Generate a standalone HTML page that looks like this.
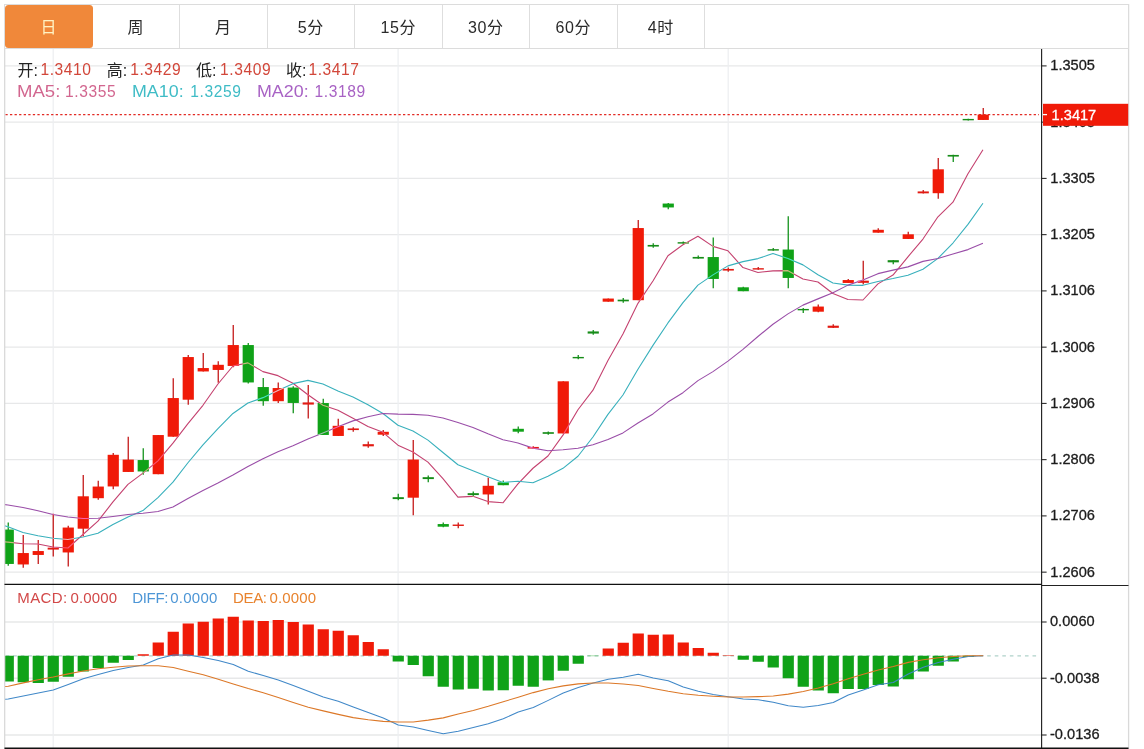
<!DOCTYPE html>
<html lang="zh"><head><meta charset="utf-8"><title>K线图</title>
<style>
html,body{margin:0;padding:0;background:#fff;}
body{width:1144px;height:749px;position:relative;overflow:hidden;font-family:"Liberation Sans","Noto Sans CJK SC",sans-serif;}
#tabs{position:absolute;left:4px;top:4px;width:1123.2px;height:42.6px;border:1px solid #dcdcdc;box-sizing:content-box;background:#fff;}
.tab{position:absolute;top:0;width:87.5px;height:42.6px;line-height:45px;text-align:center;font-size:16px;letter-spacing:0.5px;color:#2a2a2a;border-right:1px solid #dedede;box-sizing:border-box;}
.tab.on{background:#f0883a;color:#fff3c4;border-radius:3.5px;border-right:none;top:0;height:42.8px;}
svg{position:absolute;left:0;top:0;}
.ax{font-family:"Liberation Sans",sans-serif;font-size:14.6px;fill:#1c1c1c;stroke:#1c1c1c;stroke-width:0.3px;}
.lg{position:absolute;white-space:nowrap;font-size:16px;line-height:20px;letter-spacing:0.25px;}
.lg i{font-style:normal;}
.lg.c{color:#222;letter-spacing:0;}
.lg.v{color:#d2473a;letter-spacing:0.55px;font-size:15.6px;margin-left:-0.4px;}
.lg.k{top:82.3px;letter-spacing:0;font-size:15.6px;transform-origin:0 0;transform:scaleX(1.145);}
.lg.w{top:82.3px;letter-spacing:0.62px;font-size:15.6px;}
.lg.m{top:588.4px;font-size:15px;letter-spacing:0;}
</style></head><body>
<svg width="1144" height="749" viewBox="0 0 1144 749">
<line x1="5" x2="1041" y1="65.9" y2="65.9" stroke="#e7e8e9" stroke-width="1.4"/>
<line x1="5" x2="1041" y1="122.15" y2="122.15" stroke="#e7e8e9" stroke-width="1.4"/>
<line x1="5" x2="1041" y1="178.4" y2="178.4" stroke="#e7e8e9" stroke-width="1.4"/>
<line x1="5" x2="1041" y1="234.65" y2="234.65" stroke="#e7e8e9" stroke-width="1.4"/>
<line x1="5" x2="1041" y1="290.9" y2="290.9" stroke="#e7e8e9" stroke-width="1.4"/>
<line x1="5" x2="1041" y1="347.15" y2="347.15" stroke="#e7e8e9" stroke-width="1.4"/>
<line x1="5" x2="1041" y1="403.4" y2="403.4" stroke="#e7e8e9" stroke-width="1.4"/>
<line x1="5" x2="1041" y1="459.65" y2="459.65" stroke="#e7e8e9" stroke-width="1.4"/>
<line x1="5" x2="1041" y1="515.9" y2="515.9" stroke="#e7e8e9" stroke-width="1.4"/>
<line x1="5" x2="1041" y1="572.15" y2="572.15" stroke="#e7e8e9" stroke-width="1.4"/>
<line x1="5" x2="1041" y1="622" y2="622" stroke="#e7e8e9" stroke-width="1.4"/>
<line x1="5" x2="1041" y1="678.2" y2="678.2" stroke="#e7e8e9" stroke-width="1.4"/>
<line x1="5" x2="1041" y1="735" y2="735" stroke="#e7e8e9" stroke-width="1.4"/>
<line x1="53.2" x2="53.2" y1="48.5" y2="748" stroke="#edeff1" stroke-width="1.25"/>
<line x1="398.1" x2="398.1" y1="48.5" y2="748" stroke="#edeff1" stroke-width="1.25"/>
<line x1="728.2" x2="728.2" y1="48.5" y2="748" stroke="#edeff1" stroke-width="1.25"/>
<defs><clipPath id="cp"><rect x="5" y="49" width="1036" height="700"/></clipPath></defs>
<g clip-path="url(#cp)">
<line x1="5.7" x2="1037" y1="655.95" y2="655.95" stroke="#b0d2ca" stroke-width="1.25" stroke-dasharray="3.6 3.95"/>
<g style="isolation:isolate">
<line x1="8.25" x2="8.25" y1="522.60" y2="565.70" stroke="#14921c" stroke-width="1.3"/>
<rect x="2.6500000000000004" y="529.55" width="11.2" height="34.40" fill="#10a218"/>
<line x1="23.25" x2="23.25" y1="535.10" y2="567.70" stroke="#c41a1a" stroke-width="1.3"/>
<rect x="17.65" y="553.05" width="11.2" height="11.40" fill="#f01a08"/>
<line x1="38.25" x2="38.25" y1="540.10" y2="563.95" stroke="#c41a1a" stroke-width="1.3"/>
<rect x="32.65" y="551.05" width="11.2" height="3.90" fill="#f01a08"/>
<line x1="53.25" x2="53.25" y1="513.85" y2="556.45" stroke="#c41a1a" stroke-width="1.3"/>
<rect x="47.65" y="547.67" width="11.2" height="1.90" fill="#e21a12"/>
<line x1="68.25" x2="68.25" y1="525.85" y2="566.45" stroke="#c41a1a" stroke-width="1.3"/>
<rect x="62.65" y="527.55" width="11.2" height="24.90" fill="#f01a08"/>
<line x1="83.25" x2="83.25" y1="475.10" y2="536.45" stroke="#c41a1a" stroke-width="1.3"/>
<rect x="77.65" y="496.30" width="11.2" height="32.40" fill="#f01a08"/>
<line x1="98.25" x2="98.25" y1="480.85" y2="499.70" stroke="#c41a1a" stroke-width="1.3"/>
<rect x="92.65" y="486.55" width="11.2" height="11.65" fill="#f01a08"/>
<line x1="113.25" x2="113.25" y1="453.10" y2="489.20" stroke="#c41a1a" stroke-width="1.3"/>
<rect x="107.65" y="454.80" width="11.2" height="31.65" fill="#f01a08"/>
<line x1="128.25" x2="128.25" y1="436.85" y2="471.95" stroke="#c41a1a" stroke-width="1.3"/>
<rect x="122.65" y="459.55" width="11.2" height="12.40" fill="#f01a08"/>
<line x1="143.25" x2="143.25" y1="448.35" y2="474.70" stroke="#14921c" stroke-width="1.3"/>
<rect x="137.65" y="460.05" width="11.2" height="11.40" fill="#10a218"/>
<line x1="158.25" x2="158.25" y1="435.10" y2="474.20" stroke="#c41a1a" stroke-width="1.3"/>
<rect x="152.65" y="435.05" width="11.2" height="39.15" fill="#f01a08"/>
<line x1="173.25" x2="173.25" y1="378.35" y2="436.70" stroke="#c41a1a" stroke-width="1.3"/>
<rect x="167.65" y="398.05" width="11.2" height="38.65" fill="#f01a08"/>
<line x1="188.25" x2="188.25" y1="355.10" y2="404.70" stroke="#c41a1a" stroke-width="1.3"/>
<rect x="182.65" y="357.05" width="11.2" height="42.65" fill="#f01a08"/>
<line x1="203.25" x2="203.25" y1="353.10" y2="371.45" stroke="#c41a1a" stroke-width="1.3"/>
<rect x="197.65" y="368.05" width="11.2" height="3.40" fill="#f01a08"/>
<line x1="218.25" x2="218.25" y1="361.35" y2="382.70" stroke="#c41a1a" stroke-width="1.3"/>
<rect x="212.65" y="364.80" width="11.2" height="5.15" fill="#f01a08"/>
<line x1="233.25" x2="233.25" y1="325.10" y2="367.20" stroke="#c41a1a" stroke-width="1.3"/>
<rect x="227.65" y="345.05" width="11.2" height="20.90" fill="#f01a08"/>
<line x1="248.25" x2="248.25" y1="343.10" y2="383.45" stroke="#14921c" stroke-width="1.3"/>
<rect x="242.65" y="345.05" width="11.2" height="37.40" fill="#10a218"/>
<line x1="263.25" x2="263.25" y1="378.10" y2="405.70" stroke="#14921c" stroke-width="1.3"/>
<rect x="257.65" y="387.05" width="11.2" height="14.15" fill="#10a218"/>
<line x1="278.25" x2="278.25" y1="382.60" y2="402.95" stroke="#c41a1a" stroke-width="1.3"/>
<rect x="272.65" y="388.05" width="11.2" height="13.15" fill="#f01a08"/>
<line x1="293.25" x2="293.25" y1="386.35" y2="413.20" stroke="#14921c" stroke-width="1.3"/>
<rect x="287.65" y="387.55" width="11.2" height="15.40" fill="#10a218"/>
<line x1="308.25" x2="308.25" y1="385.10" y2="418.45" stroke="#c41a1a" stroke-width="1.3"/>
<rect x="302.65" y="402.43" width="11.2" height="2.15" fill="#e21a12"/>
<line x1="323.25" x2="323.25" y1="398.85" y2="434.95" stroke="#14921c" stroke-width="1.3"/>
<rect x="317.65" y="403.05" width="11.2" height="31.90" fill="#10a218"/>
<line x1="338.25" x2="338.25" y1="418.85" y2="435.95" stroke="#c41a1a" stroke-width="1.3"/>
<rect x="332.65" y="425.80" width="11.2" height="10.15" fill="#f01a08"/>
<line x1="353.25" x2="353.25" y1="427.35" y2="431.70" stroke="#c41a1a" stroke-width="1.3"/>
<rect x="347.65" y="428.43" width="11.2" height="1.65" fill="#e21a12"/>
<line x1="368.25" x2="368.25" y1="441.60" y2="447.70" stroke="#c41a1a" stroke-width="1.3"/>
<rect x="362.65" y="444.18" width="11.2" height="2.15" fill="#e21a12"/>
<line x1="383.25" x2="383.25" y1="430.10" y2="435.95" stroke="#c41a1a" stroke-width="1.3"/>
<rect x="377.65" y="431.80" width="11.2" height="2.90" fill="#f01a08"/>
<line x1="398.25" x2="398.25" y1="493.85" y2="500.20" stroke="#14921c" stroke-width="1.3"/>
<rect x="392.65" y="497.18" width="11.2" height="1.90" fill="#168c18"/>
<line x1="413.25" x2="413.25" y1="440.10" y2="515.20" stroke="#c41a1a" stroke-width="1.3"/>
<rect x="407.65" y="459.55" width="11.2" height="38.15" fill="#f01a08"/>
<line x1="428.25" x2="428.25" y1="475.60" y2="482.20" stroke="#14921c" stroke-width="1.3"/>
<rect x="422.65" y="477.18" width="11.2" height="1.90" fill="#168c18"/>
<line x1="443.25" x2="443.25" y1="522.60" y2="527.20" stroke="#14921c" stroke-width="1.3"/>
<rect x="437.65" y="524.05" width="11.2" height="2.65" fill="#10a218"/>
<line x1="458.25" x2="458.25" y1="522.60" y2="528.20" stroke="#c41a1a" stroke-width="1.3"/>
<rect x="452.65" y="524.55" width="11.2" height="1.40" fill="#e21a12"/>
<line x1="473.25" x2="473.25" y1="491.60" y2="496.70" stroke="#14921c" stroke-width="1.3"/>
<rect x="467.65" y="493.18" width="11.2" height="1.90" fill="#168c18"/>
<line x1="488.25" x2="488.25" y1="477.60" y2="504.45" stroke="#c41a1a" stroke-width="1.3"/>
<rect x="482.65" y="485.80" width="11.2" height="8.65" fill="#f01a08"/>
<line x1="503.25" x2="503.25" y1="480.60" y2="485.20" stroke="#14921c" stroke-width="1.3"/>
<rect x="497.65" y="482.30" width="11.2" height="2.90" fill="#10a218"/>
<line x1="518.25" x2="518.25" y1="426.60" y2="433.20" stroke="#14921c" stroke-width="1.3"/>
<rect x="512.65" y="428.80" width="11.2" height="2.90" fill="#10a218"/>
<line x1="533.25" x2="533.25" y1="446.35" y2="448.70" stroke="#c41a1a" stroke-width="1.3"/>
<rect x="527.65" y="446.93" width="11.2" height="1.65" fill="#e21a12"/>
<line x1="548.25" x2="548.25" y1="431.60" y2="434.70" stroke="#14921c" stroke-width="1.3"/>
<rect x="542.65" y="432.18" width="11.2" height="1.65" fill="#168c18"/>
<line x1="563.25" x2="563.25" y1="381.35" y2="433.45" stroke="#c41a1a" stroke-width="1.3"/>
<rect x="557.65" y="381.30" width="11.2" height="52.15" fill="#f01a08"/>
<line x1="578.25" x2="578.25" y1="355.10" y2="359.20" stroke="#14921c" stroke-width="1.3"/>
<rect x="572.65" y="356.93" width="11.2" height="1.40" fill="#168c18"/>
<line x1="593.25" x2="593.25" y1="330.10" y2="334.70" stroke="#14921c" stroke-width="1.3"/>
<rect x="587.65" y="331.43" width="11.2" height="2.15" fill="#168c18"/>
<line x1="608.25" x2="608.25" y1="298.60" y2="301.70" stroke="#c41a1a" stroke-width="1.3"/>
<rect x="602.65" y="298.55" width="11.2" height="3.15" fill="#f01a08"/>
<line x1="623.25" x2="623.25" y1="298.10" y2="302.70" stroke="#14921c" stroke-width="1.3"/>
<rect x="617.65" y="299.68" width="11.2" height="1.65" fill="#168c18"/>
<line x1="638.25" x2="638.25" y1="220.10" y2="300.20" stroke="#c41a1a" stroke-width="1.3"/>
<rect x="632.65" y="228.05" width="11.2" height="72.15" fill="#f01a08"/>
<line x1="653.25" x2="653.25" y1="243.35" y2="247.70" stroke="#14921c" stroke-width="1.3"/>
<rect x="647.65" y="244.93" width="11.2" height="1.65" fill="#168c18"/>
<line x1="668.25" x2="668.25" y1="203.10" y2="209.20" stroke="#14921c" stroke-width="1.3"/>
<rect x="662.65" y="203.55" width="11.2" height="3.90" fill="#10a218"/>
<line x1="683.25" x2="683.25" y1="241.60" y2="243.70" stroke="#14921c" stroke-width="1.3"/>
<rect x="677.65" y="242.18" width="11.2" height="1.40" fill="#168c18"/>
<line x1="698.25" x2="698.25" y1="255.60" y2="258.70" stroke="#14921c" stroke-width="1.3"/>
<rect x="692.65" y="256.93" width="11.2" height="1.65" fill="#168c18"/>
<line x1="713.25" x2="713.25" y1="237.60" y2="288.20" stroke="#14921c" stroke-width="1.3"/>
<rect x="707.65" y="257.05" width="11.2" height="21.90" fill="#10a218"/>
<line x1="728.25" x2="728.25" y1="267.60" y2="271.70" stroke="#c41a1a" stroke-width="1.3"/>
<rect x="722.65" y="268.93" width="11.2" height="1.65" fill="#e21a12"/>
<line x1="743.25" x2="743.25" y1="286.85" y2="291.20" stroke="#14921c" stroke-width="1.3"/>
<rect x="737.65" y="287.30" width="11.2" height="3.90" fill="#10a218"/>
<line x1="758.25" x2="758.25" y1="267.10" y2="269.70" stroke="#c41a1a" stroke-width="1.3"/>
<rect x="752.65" y="268.18" width="11.2" height="1.40" fill="#e21a12"/>
<line x1="773.25" x2="773.25" y1="248.10" y2="250.70" stroke="#14921c" stroke-width="1.3"/>
<rect x="767.65" y="249.18" width="11.2" height="1.40" fill="#168c18"/>
<line x1="788.25" x2="788.25" y1="216.35" y2="288.20" stroke="#14921c" stroke-width="1.3"/>
<rect x="782.65" y="249.55" width="11.2" height="28.40" fill="#10a218"/>
<line x1="803.25" x2="803.25" y1="308.10" y2="312.95" stroke="#14921c" stroke-width="1.3"/>
<rect x="797.65" y="308.93" width="11.2" height="1.40" fill="#168c18"/>
<line x1="818.25" x2="818.25" y1="304.60" y2="312.20" stroke="#c41a1a" stroke-width="1.3"/>
<rect x="812.65" y="306.55" width="11.2" height="5.15" fill="#f01a08"/>
<line x1="833.25" x2="833.25" y1="324.35" y2="327.95" stroke="#c41a1a" stroke-width="1.3"/>
<rect x="827.65" y="325.68" width="11.2" height="2.15" fill="#e21a12"/>
<line x1="848.25" x2="848.25" y1="279.10" y2="282.95" stroke="#c41a1a" stroke-width="1.3"/>
<rect x="842.65" y="280.05" width="11.2" height="2.90" fill="#f01a08"/>
<line x1="863.25" x2="863.25" y1="260.85" y2="284.45" stroke="#c41a1a" stroke-width="1.3"/>
<rect x="857.65" y="280.68" width="11.2" height="2.15" fill="#e21a12"/>
<line x1="878.25" x2="878.25" y1="228.35" y2="232.70" stroke="#c41a1a" stroke-width="1.3"/>
<rect x="872.65" y="229.80" width="11.2" height="2.90" fill="#f01a08"/>
<line x1="893.25" x2="893.25" y1="260.10" y2="264.20" stroke="#14921c" stroke-width="1.3"/>
<rect x="887.65" y="260.18" width="11.2" height="2.15" fill="#168c18"/>
<line x1="908.25" x2="908.25" y1="231.85" y2="238.95" stroke="#c41a1a" stroke-width="1.3"/>
<rect x="902.65" y="234.30" width="11.2" height="4.65" fill="#f01a08"/>
<line x1="923.25" x2="923.25" y1="190.10" y2="193.45" stroke="#c41a1a" stroke-width="1.3"/>
<rect x="917.65" y="191.43" width="11.2" height="1.90" fill="#e21a12"/>
<line x1="938.25" x2="938.25" y1="158.10" y2="198.70" stroke="#c41a1a" stroke-width="1.3"/>
<rect x="932.65" y="169.30" width="11.2" height="23.90" fill="#f01a08"/>
<line x1="953.25" x2="953.25" y1="154.85" y2="161.95" stroke="#14921c" stroke-width="1.3"/>
<rect x="947.65" y="154.93" width="11.2" height="1.65" fill="#168c18"/>
<line x1="968.25" x2="968.25" y1="118.85" y2="120.45" stroke="#14921c" stroke-width="1.3"/>
<rect x="962.65" y="118.92" width="11.2" height="1.40" fill="#168c18"/>
<line x1="983.25" x2="983.25" y1="108.10" y2="119.95" stroke="#c41a1a" stroke-width="1.3"/>
<rect x="977.65" y="114.55" width="11.2" height="5.40" fill="#f01a08"/>
<g style="mix-blend-mode:screen" transform="translate(-0.3,-0.55)">
<polyline points="-6.75,541.50 8.25,542.70 23.25,544.25 38.25,544.50 53.25,547.50 68.25,548.55 83.25,535.05 98.25,521.75 113.25,502.50 128.25,484.90 143.25,473.65 158.25,461.40 173.25,443.70 188.25,424.15 203.25,405.85 218.25,384.55 233.25,366.55 248.25,363.40 263.25,372.20 278.25,376.20 293.25,383.80 308.25,395.25 323.25,405.75 338.25,410.70 353.25,418.75 368.25,427.00 383.25,432.90 398.25,445.75 413.25,452.50 428.25,462.65 443.25,479.15 458.25,497.70 473.25,496.90 488.25,502.15 503.25,503.35 518.25,484.35 533.25,468.80 548.25,456.55 563.25,435.65 578.25,410.30 593.25,390.70 608.25,361.05 623.25,334.55 638.25,303.90 653.25,281.55 668.25,256.30 683.25,245.30 698.25,236.75 713.25,246.90 728.25,251.35 743.25,268.10 758.25,273.00 773.25,271.40 788.25,271.20 803.25,279.50 818.25,282.60 833.25,294.10 848.25,300.00 863.25,300.55 878.25,284.45 893.25,275.60 908.25,257.35 923.25,239.60 938.25,217.35 953.25,202.70 968.25,174.30 983.25,150.35" fill="none" stroke="#c4416f" stroke-width="1.1" stroke-linejoin="round"/>
<polyline points="-6.75,523.00 8.25,527.30 23.25,533.00 38.25,536.25 53.25,538.75 68.25,540.00 83.25,537.50 98.25,533.75 113.25,525.00 128.25,517.50 143.25,511.10 158.25,498.23 173.25,482.73 188.25,463.32 203.25,445.38 218.25,429.10 233.25,413.98 248.25,403.55 263.25,398.18 278.25,391.02 293.25,384.18 308.25,380.90 323.25,384.57 338.25,391.45 353.25,397.48 368.25,405.40 383.25,414.07 398.25,425.75 413.25,431.60 428.25,440.70 443.25,453.07 458.25,465.30 473.25,471.32 488.25,477.32 503.25,483.00 518.25,481.75 533.25,483.25 548.25,476.73 563.25,468.90 578.25,456.82 593.25,437.52 608.25,414.93 623.25,395.55 638.25,369.77 653.25,345.93 668.25,323.50 683.25,303.18 698.25,285.65 713.25,275.40 728.25,266.45 743.25,262.20 758.25,259.15 773.25,254.07 788.25,259.05 803.25,265.43 818.25,275.35 833.25,283.55 848.25,285.70 863.25,285.88 878.25,281.98 893.25,279.10 908.25,275.73 923.25,269.80 938.25,258.95 953.25,243.57 968.25,224.95 983.25,203.85" fill="none" stroke="#38b0bc" stroke-width="1.1" stroke-linejoin="round"/>
<polyline points="-6.75,504.00 8.25,505.50 23.25,508.00 38.25,511.25 53.25,515.00 68.25,517.50 83.25,519.00 98.25,518.75 113.25,517.00 128.25,515.00 143.25,513.75 158.25,512.00 173.25,507.50 188.25,499.00 203.25,491.00 218.25,483.50 233.25,475.50 248.25,467.00 263.25,459.20 278.25,452.20 293.25,446.20 308.25,439.56 323.25,433.65 338.25,427.39 353.25,421.43 368.25,417.25 383.25,414.02 398.25,414.65 413.25,414.89 428.25,415.86 443.25,418.62 458.25,423.10 473.25,427.95 488.25,434.39 503.25,440.24 518.25,443.57 533.25,448.66 548.25,451.24 563.25,450.25 578.25,448.76 593.25,445.30 608.25,440.11 623.25,433.44 638.25,423.55 653.25,414.46 668.25,402.62 683.25,393.21 698.25,381.19 713.25,372.15 728.25,361.64 743.25,349.86 758.25,337.04 773.25,324.81 788.25,314.41 803.25,305.68 818.25,299.43 833.25,293.36 848.25,285.68 863.25,280.64 878.25,274.21 893.25,270.65 908.25,267.44 923.25,261.94 938.25,259.00 953.25,254.50 968.25,250.15 983.25,243.70" fill="none" stroke="#9a4ea8" stroke-width="1.1" stroke-linejoin="round"/>
</g>
</g>
<rect x="2.6500000000000004" y="655.75" width="11.2" height="25.75" fill="#10a218"/>
<rect x="17.65" y="655.75" width="11.2" height="26.50" fill="#10a218"/>
<rect x="32.65" y="655.75" width="11.2" height="27.25" fill="#10a218"/>
<rect x="47.65" y="655.75" width="11.2" height="26.00" fill="#10a218"/>
<rect x="62.65" y="655.75" width="11.2" height="21.00" fill="#10a218"/>
<rect x="77.65" y="655.75" width="11.2" height="15.75" fill="#10a218"/>
<rect x="92.65" y="655.75" width="11.2" height="12.25" fill="#10a218"/>
<rect x="107.65" y="655.75" width="11.2" height="7.00" fill="#10a218"/>
<rect x="122.65" y="655.75" width="11.2" height="4.25" fill="#10a218"/>
<rect x="137.65" y="654.25" width="11.2" height="1.50" fill="#f01a08"/>
<rect x="152.65" y="642.5" width="11.2" height="13.25" fill="#f01a08"/>
<rect x="167.65" y="631.75" width="11.2" height="24.00" fill="#f01a08"/>
<rect x="182.65" y="623.5" width="11.2" height="32.25" fill="#f01a08"/>
<rect x="197.65" y="621.75" width="11.2" height="34.00" fill="#f01a08"/>
<rect x="212.65" y="618.5" width="11.2" height="37.25" fill="#f01a08"/>
<rect x="227.65" y="616.75" width="11.2" height="39.00" fill="#f01a08"/>
<rect x="242.65" y="620.5" width="11.2" height="35.25" fill="#f01a08"/>
<rect x="257.65" y="621" width="11.2" height="34.75" fill="#f01a08"/>
<rect x="272.65" y="620" width="11.2" height="35.75" fill="#f01a08"/>
<rect x="287.65" y="622" width="11.2" height="33.75" fill="#f01a08"/>
<rect x="302.65" y="624.5" width="11.2" height="31.25" fill="#f01a08"/>
<rect x="317.65" y="629.25" width="11.2" height="26.50" fill="#f01a08"/>
<rect x="332.65" y="630.75" width="11.2" height="25.00" fill="#f01a08"/>
<rect x="347.65" y="635.25" width="11.2" height="20.50" fill="#f01a08"/>
<rect x="362.65" y="642" width="11.2" height="13.75" fill="#f01a08"/>
<rect x="377.65" y="649.25" width="11.2" height="6.50" fill="#f01a08"/>
<rect x="392.65" y="655.75" width="11.2" height="5.75" fill="#10a218"/>
<rect x="407.65" y="655.75" width="11.2" height="9.25" fill="#10a218"/>
<rect x="422.65" y="655.75" width="11.2" height="20.50" fill="#10a218"/>
<rect x="437.65" y="655.75" width="11.2" height="31.00" fill="#10a218"/>
<rect x="452.65" y="655.75" width="11.2" height="33.75" fill="#10a218"/>
<rect x="467.65" y="655.75" width="11.2" height="33.00" fill="#10a218"/>
<rect x="482.65" y="655.75" width="11.2" height="34.75" fill="#10a218"/>
<rect x="497.65" y="655.75" width="11.2" height="34.50" fill="#10a218"/>
<rect x="512.65" y="655.75" width="11.2" height="30.00" fill="#10a218"/>
<rect x="527.65" y="655.75" width="11.2" height="31.00" fill="#10a218"/>
<rect x="542.65" y="655.75" width="11.2" height="24.65" fill="#10a218"/>
<rect x="557.65" y="655.75" width="11.2" height="15.00" fill="#10a218"/>
<rect x="572.65" y="655.75" width="11.2" height="8.00" fill="#10a218"/>
<rect x="587.65" y="655.75" width="11.2" height="0.35" fill="#10a218"/>
<rect x="602.65" y="648.5" width="11.2" height="7.25" fill="#f01a08"/>
<rect x="617.65" y="642.75" width="11.2" height="13.00" fill="#f01a08"/>
<rect x="632.65" y="633.5" width="11.2" height="22.25" fill="#f01a08"/>
<rect x="647.65" y="634.75" width="11.2" height="21.00" fill="#f01a08"/>
<rect x="662.65" y="634.5" width="11.2" height="21.25" fill="#f01a08"/>
<rect x="677.65" y="642.5" width="11.2" height="13.25" fill="#f01a08"/>
<rect x="692.65" y="648" width="11.2" height="7.75" fill="#f01a08"/>
<rect x="707.65" y="652.75" width="11.2" height="3.00" fill="#f01a08"/>
<rect x="722.65" y="655.25" width="11.2" height="0.50" fill="#f01a08"/>
<rect x="737.65" y="655.75" width="11.2" height="4.00" fill="#10a218"/>
<rect x="752.65" y="655.75" width="11.2" height="6.00" fill="#10a218"/>
<rect x="767.65" y="655.75" width="11.2" height="11.75" fill="#10a218"/>
<rect x="782.65" y="655.75" width="11.2" height="22.50" fill="#10a218"/>
<rect x="797.65" y="655.75" width="11.2" height="31.00" fill="#10a218"/>
<rect x="812.65" y="655.75" width="11.2" height="34.75" fill="#10a218"/>
<rect x="827.65" y="655.75" width="11.2" height="37.50" fill="#10a218"/>
<rect x="842.65" y="655.75" width="11.2" height="33.25" fill="#10a218"/>
<rect x="857.65" y="655.75" width="11.2" height="33.25" fill="#10a218"/>
<rect x="872.65" y="655.75" width="11.2" height="29.25" fill="#10a218"/>
<rect x="887.65" y="655.75" width="11.2" height="30.75" fill="#10a218"/>
<rect x="902.65" y="655.75" width="11.2" height="23.50" fill="#10a218"/>
<rect x="917.65" y="655.75" width="11.2" height="15.75" fill="#10a218"/>
<rect x="932.65" y="655.75" width="11.2" height="10.00" fill="#10a218"/>
<rect x="947.65" y="655.75" width="11.2" height="5.75" fill="#10a218"/>
<rect x="962.65" y="655.75" width="11.2" height="1.25" fill="#10a218"/>
<polyline points="-6.75,700.20 8.25,699.00 23.25,696.00 38.25,693.00 53.25,690.00 68.25,684.50 83.25,678.75 98.25,674.50 113.25,670.50 128.25,667.50 143.25,665.00 158.25,658.75 173.25,655.00 188.25,655.00 203.25,657.50 218.25,660.50 233.25,664.50 248.25,671.25 263.25,675.50 278.25,680.00 293.25,685.50 308.25,691.25 323.25,697.00 338.25,701.25 353.25,707.00 368.25,712.50 383.25,718.00 398.25,725.00 413.25,727.00 428.25,730.50 443.25,733.75 458.25,731.25 473.25,727.50 488.25,723.75 503.25,718.75 518.25,712.00 533.25,707.50 548.25,700.40 563.25,693.00 578.25,687.50 593.25,683.00 608.25,679.25 623.25,677.25 638.25,674.25 653.25,678.00 668.25,680.75 683.25,687.00 698.25,691.25 713.25,694.50 728.25,696.75 743.25,699.00 758.25,699.75 773.25,702.25 788.25,705.75 803.25,707.25 818.25,705.50 833.25,702.50 848.25,695.00 863.25,690.00 878.25,684.80 893.25,682.50 908.25,674.00 923.25,667.20 938.25,662.60 953.25,659.20 968.25,656.40 983.25,655.80" fill="none" stroke="#4088c8" stroke-width="1.05" stroke-linejoin="round"/>
<polyline points="-6.75,687.30 8.25,686.31 23.25,682.88 38.25,679.69 53.25,677.00 68.25,673.88 83.25,670.94 98.25,668.69 113.25,667.25 128.25,665.94 143.25,665.75 158.25,665.81 173.25,667.50 188.25,671.19 203.25,674.75 218.25,679.31 233.25,683.88 248.25,688.56 263.25,692.69 278.25,697.44 293.25,702.44 308.25,707.19 323.25,710.88 338.25,714.38 353.25,717.62 368.25,719.81 383.25,721.38 398.25,722.06 413.25,721.94 428.25,720.12 443.25,717.88 458.25,714.06 473.25,710.50 488.25,706.31 503.25,701.75 518.25,697.25 533.25,692.62 548.25,688.66 563.25,685.88 578.25,683.88 593.25,683.04 608.25,683.06 623.25,684.00 638.25,685.56 653.25,688.50 668.25,691.31 683.25,693.69 698.25,695.31 713.25,696.25 728.25,697.00 743.25,697.00 758.25,696.62 773.25,696.06 788.25,694.12 803.25,691.50 818.25,688.06 833.25,683.75 848.25,678.81 863.25,674.19 878.25,670.09 893.25,666.44 908.25,662.38 923.25,659.66 938.25,657.80 953.25,656.54 968.25,655.76 983.25,655.65" fill="none" stroke="#dc7828" stroke-width="1.05" stroke-linejoin="round"/>
</g>
<line x1="5.4" x2="1039" y1="114.6" y2="114.6" stroke="#e22a24" stroke-width="1.15" stroke-dasharray="2.3 2.27"/>
<line x1="4.7" x2="4.7" y1="48" y2="749" stroke="#d6d6d6" stroke-width="1.2"/>
<line x1="1128.6" x2="1128.6" y1="4" y2="749" stroke="#d9d9d9" stroke-width="1.3"/>
<line x1="1041.6" x2="1041.6" y1="48.5" y2="749" stroke="#222" stroke-width="1.15"/>
<line x1="4.5" x2="1041.5" y1="584.4" y2="584.4" stroke="#111" stroke-width="1.1"/>
<line x1="1041.5" x2="1128.5" y1="585.4" y2="585.4" stroke="#222" stroke-width="1.05"/>
<line x1="4.5" x2="1128.5" y1="748.2" y2="748.2" stroke="#111" stroke-width="1.5"/>
<line x1="1041" x2="1046.6" y1="65.9" y2="65.9" stroke="#222" stroke-width="1.05"/>
<text transform="translate(1050.3,70.35)" class="ax">1.3505</text>
<line x1="1041" x2="1046.6" y1="122.15" y2="122.15" stroke="#222" stroke-width="1.05"/>
<text transform="translate(1050.3,126.60)" class="ax">1.3405</text>
<line x1="1041" x2="1046.6" y1="178.4" y2="178.4" stroke="#222" stroke-width="1.05"/>
<text transform="translate(1050.3,182.85)" class="ax">1.3305</text>
<line x1="1041" x2="1046.6" y1="234.65" y2="234.65" stroke="#222" stroke-width="1.05"/>
<text transform="translate(1050.3,239.10)" class="ax">1.3205</text>
<line x1="1041" x2="1046.6" y1="290.9" y2="290.9" stroke="#222" stroke-width="1.05"/>
<text transform="translate(1050.3,295.35)" class="ax">1.3106</text>
<line x1="1041" x2="1046.6" y1="347.15" y2="347.15" stroke="#222" stroke-width="1.05"/>
<text transform="translate(1050.3,351.60)" class="ax">1.3006</text>
<line x1="1041" x2="1046.6" y1="403.4" y2="403.4" stroke="#222" stroke-width="1.05"/>
<text transform="translate(1050.3,407.85)" class="ax">1.2906</text>
<line x1="1041" x2="1046.6" y1="459.65" y2="459.65" stroke="#222" stroke-width="1.05"/>
<text transform="translate(1050.3,464.10)" class="ax">1.2806</text>
<line x1="1041" x2="1046.6" y1="515.9" y2="515.9" stroke="#222" stroke-width="1.05"/>
<text transform="translate(1050.3,520.35)" class="ax">1.2706</text>
<line x1="1041" x2="1046.6" y1="572.15" y2="572.15" stroke="#222" stroke-width="1.05"/>
<text transform="translate(1050.3,576.60)" class="ax">1.2606</text>
<line x1="1041" x2="1046.6" y1="622" y2="622" stroke="#222" stroke-width="1.05"/>
<text transform="translate(1050,626.45)" class="ax">0.0060</text>
<line x1="1041" x2="1046.6" y1="678.2" y2="678.2" stroke="#222" stroke-width="1.05"/>
<text transform="translate(1050,682.65)" class="ax">-0.0038</text>
<line x1="1041" x2="1046.6" y1="735" y2="735" stroke="#222" stroke-width="1.05"/>
<text transform="translate(1050,739.45)" class="ax">-0.0136</text>
<rect x="1043" y="103.8" width="85.2" height="22" fill="#f01a08"/>
<line x1="1043" x2="1047" y1="114.6" y2="114.6" stroke="#fff" stroke-width="1.3"/>
<text transform="translate(1051.6,119.5)" class="ax" style="fill:#fff;stroke:#fff">1.3417</text>
</svg>
<div id="tabs"><div class="tab on" style="left:0.0px">日</div><div class="tab" style="left:87.5px">周</div><div class="tab" style="left:175.0px">月</div><div class="tab" style="left:262.5px">5分</div><div class="tab" style="left:350.0px">15分</div><div class="tab" style="left:437.5px">30分</div><div class="tab" style="left:525.0px">60分</div><div class="tab" style="left:612.5px">4时</div></div>
<div class="lg c" style="left:17.5px;top:60.5px">开:</div><div class="lg v" style="left:40.8px;top:60px">1.3410</div>
<div class="lg c" style="left:106.8px;top:60.5px">高:</div><div class="lg v" style="left:130.6px;top:60px">1.3429</div>
<div class="lg c" style="left:196px;top:60.5px">低:</div><div class="lg v" style="left:220.5px;top:60px">1.3409</div>
<div class="lg c" style="left:286px;top:60.5px">收:</div><div class="lg v" style="left:308.9px;top:60px">1.3417</div>
<div class="lg k" style="left:17px;color:#d2668f;transform:scaleX(1.19)">MA5:</div><div class="lg w" style="left:64.9px;color:#d2668f">1.3355</div>
<div class="lg k" style="left:131.9px;color:#3fbcc6">MA10:</div><div class="lg w" style="left:190.2px;color:#3fbcc6">1.3259</div>
<div class="lg k" style="left:256.8px;color:#a862c4">MA20:</div><div class="lg w" style="left:314.4px;color:#a862c4">1.3189</div>
<div class="lg m" style="left:17.3px;color:#d24848;letter-spacing:0.4px">MACD:</div><div class="lg m" style="left:70.5px;color:#d24848;letter-spacing:0.15px">0.0000</div>
<div class="lg m" style="left:132.2px;color:#4d96d6;letter-spacing:-0.3px">DIFF:</div><div class="lg m" style="left:170.2px;color:#4d96d6;letter-spacing:0.25px">0.0000</div>
<div class="lg m" style="left:232.9px;color:#e8832e;letter-spacing:-0.3px">DEA:</div><div class="lg m" style="left:269.4px;color:#e8832e;letter-spacing:0.15px">0.0000</div>
</body></html>
